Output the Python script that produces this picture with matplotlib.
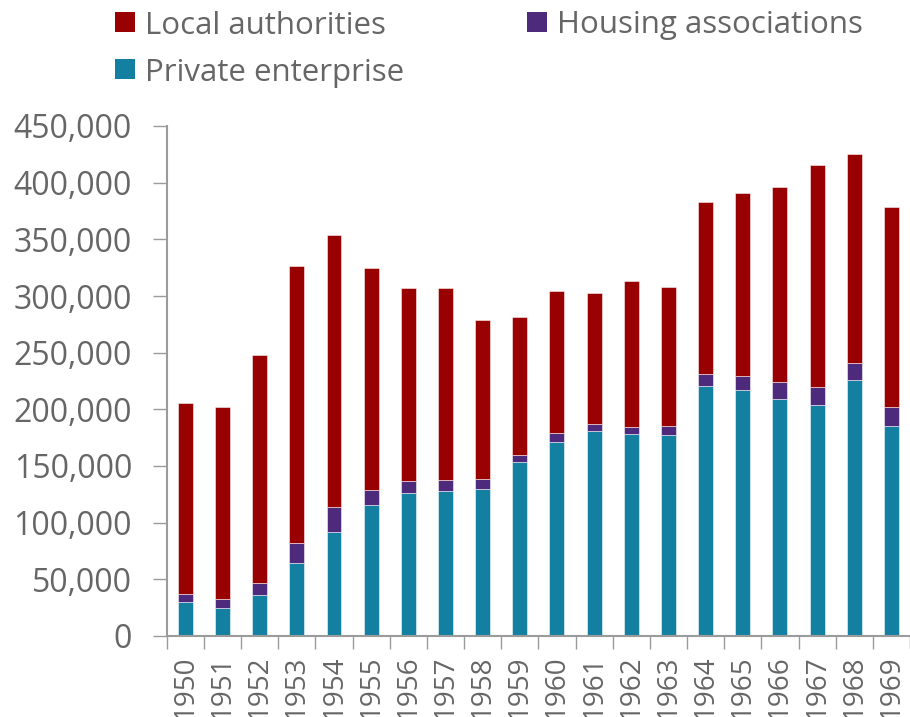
import numpy as np
import matplotlib.pyplot as plt
from matplotlib.patches import Rectangle
from matplotlib.ticker import FuncFormatter, MultipleLocator

plt.rcParams['font.family'] = ['Open Sans', 'DejaVu Sans']

# Houses built per year, by type of builder
years = list(range(1950, 1970))
private = [30200, 25100, 36500, 64600, 92100, 116000, 126500, 128300, 130100, 153100,
           171100, 180600, 177900, 177600, 221000, 216800, 209000, 203900, 225800, 185700]
housing = [7200, 7800, 10400, 17300, 22100, 12600, 9900, 9000, 8400, 6300,
           7700, 6300, 6300, 7500, 10200, 12600, 14700, 15600, 15500, 16800]
local = [168000, 169000, 201300, 244700, 239900, 195900, 171000, 170100, 139900, 122000,
         125300, 116000, 129200, 122600, 151900, 161700, 172200, 195900, 184200, 175800]

c_local = '#990000'
c_housing = '#4e2a7c'
c_private = '#1380a1'
grey = '#666666'
axis_grey = '#9b9b9b'

fig = plt.figure(figsize=(9.1, 7.17), dpi=100)
ax = fig.add_axes([166.7 / 910, 1 - 636 / 717, 1 - 166.7 / 910, (636 - 126) / 717])

x = np.arange(len(years))
private = np.array(private)
housing = np.array(housing)
local = np.array(local)
w = 0.4
kw = dict(width=w, edgecolor=(1, 1, 1, 0.6), linewidth=0.6)
ax.bar(x, private, color=c_private, **kw)
ax.bar(x, housing, bottom=private, color=c_housing, **kw)
ax.bar(x, local, bottom=private + housing, color=c_local, **kw)

ax.set_xlim(-0.5, len(years) - 0.5)
ax.set_ylim(0, 450000)

ax.yaxis.set_major_locator(MultipleLocator(50000))
ax.yaxis.set_major_formatter(FuncFormatter(lambda v, p: f'{int(v):,}'))
ax.tick_params(axis='y', length=10, width=1, color=axis_grey, pad=15,
               labelsize=23, labelcolor=grey)

ax.set_xticks(x)
ax.set_xticklabels([str(y) for y in years], rotation=90, va='top', ha='center')
ax.set_xticks(np.arange(-0.5, len(years)), minor=True)
ax.tick_params(axis='x', which='major', length=0, pad=14, labelsize=20, labelcolor=grey)
ax.tick_params(axis='x', which='minor', length=9, width=1, color=axis_grey)

for s in ['top', 'right']:
    ax.spines[s].set_visible(False)
for s in ['left', 'bottom']:
    ax.spines[s].set_color(axis_grey)
    ax.spines[s].set_linewidth(1.5)

# legend drawn by hand at the top
W, H = 910, 717
items = [('Local authorities', c_local, 115, 22),
         ('Housing associations', c_housing, 527, 22),
         ('Private enterprise', c_private, 115, 69)]
for label, col, px, py in items:
    fig.add_artist(Rectangle((px / W, 1 - (py + 10) / H), 20 / W, 20 / H,
                             transform=fig.transFigure, color=col, lw=0))
    fig.text((px + 30) / W, 1 - py / H, label, fontsize=22.5, color=grey,
             va='center_baseline', ha='left')

fig.savefig('out.png', dpi=100)
